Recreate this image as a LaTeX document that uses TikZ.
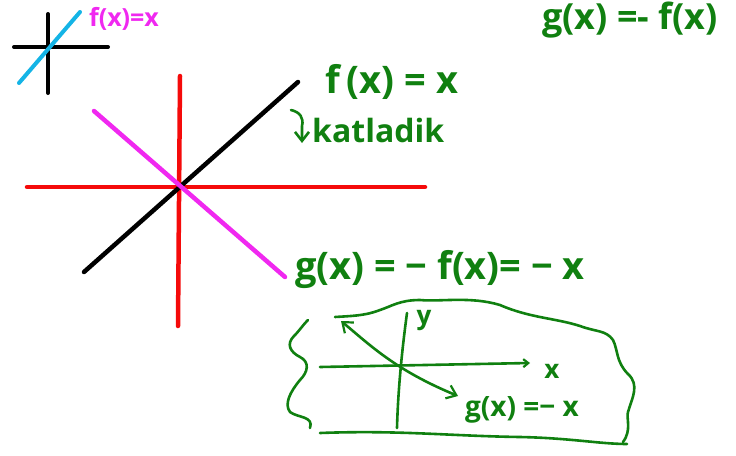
\documentclass[tikz,border=0pt]{standalone}
\usepackage{fontspec}
\setmainfont{Open Sans}
\usetikzlibrary{arrows.meta}
\definecolor{hgreen}{RGB}{16,128,16}
\definecolor{hmag}{RGB}{240,40,240}
\definecolor{hcyan}{RGB}{20,180,230}
\definecolor{hred}{RGB}{245,10,10}
\tikzset{
  thick axis/.style={line width=4.5pt, line cap=round},
  pen/.style={draw=hgreen, line width=2.6pt, line cap=round, line join=round},
  gtext/.style={text=hgreen, inner sep=0pt},
  tip/.style={-{Straight Barb[length=9pt,width=14pt,line width=2.6pt]}}
}
\begin{document}
\begin{tikzpicture}[x=1pt,y=-1pt]
\useasboundingbox (0,0) rectangle (736,455);
% small icon
\coordinate (ia) at (14,47); \coordinate (ib) at (108,47);
\coordinate (ic) at (48,14); \coordinate (id) at (48,93);
\coordinate (ie) at (19,83); \coordinate (if) at (80,12);
\draw[thick axis, line width=4pt] (ia) -- (ib);
\draw[thick axis, line width=4pt] (ic) -- (id);
\draw[thick axis, draw=hcyan, line width=4pt] (ie) -- (if);
\node[text=hmag, font=\bfseries\fontsize{25}{25}\selectfont, inner sep=0pt] (ftop) at (124,19) {f(x)=x};
% main axes
\coordinate (rl) at (27,187); \coordinate (rr) at (425,187);
\coordinate (rt) at (180,76); \coordinate (rb) at (178,326);
\coordinate (bl) at (84,272); \coordinate (bt) at (298,82);
\coordinate (ml) at (94,111); \coordinate (mr) at (285,277);
\draw[thick axis, draw=hred] (rl) -- (rr);
\draw[thick axis, draw=hred] (rt) -- (rb);
\draw[thick axis, draw=black] (bl) -- (bt);
\draw[thick axis, draw=hmag] (ml) -- (mr);
% labels
\node[gtext, font=\bfseries\fontsize{38}{38}\selectfont] (fx) at (392,82) {f\,(x) = x};
\coordinate (ka) at (291,110);
\coordinate (kb) at (302,143);
\draw[pen, tip] (ka) .. controls (300,112) and (304,118) .. (302,126) -- (kb);
\node[gtext, font=\bfseries\fontsize{32}{32}\selectfont, anchor=west] (kat) at (312,130) {katladik};
\node[gtext, font=\bfseries\fontsize{36}{36}\selectfont] (gtop) at (630,20) {g(x) =- f(x)};
\node[gtext, font=\bfseries\fontsize{38}{38}\selectfont] (gmid) at (440,270) {g(x) = − f(x)= − x};
% blob
\draw[pen] (308,320) .. controls (302,326) and (300,330) .. (294,336)
  .. controls (286,344) and (290,352) .. (300,357)
  .. controls (310,362) and (308,372) .. (300,380)
  .. controls (290,392) and (284,404) .. (290,412)
  .. controls (298,418) and (314,416) .. (310,428);
\draw[pen] (320,433) .. controls (400,430) and (450,436) .. (520,437)
  .. controls (570,438) and (600,444) .. (627,444);
\draw[pen] (623,442) .. controls (632,430) and (626,418) .. (628,412)
  .. controls (632,398) and (640,385) .. (628,374)
  .. controls (616,362) and (618,350) .. (613,340)
  .. controls (606,330) and (596,332) .. (580,326)
  .. controls (555,318) and (530,318) .. (500,305)
  .. controls (470,296) and (440,302) .. (420,300)
  .. controls (400,300) and (392,306) .. (380,310)
  .. controls (365,316) and (350,316) .. (335,317);
% inner axes
\coordinate (xa) at (320,367); \coordinate (xb) at (530,363);
\coordinate (ya) at (407,313); \coordinate (yb) at (397,428);
\draw[pen, -{Straight Barb[length=5pt,width=8pt,line width=2.2pt]}] (xa) -- (xb);
\draw[pen] (ya) .. controls (402,350) and (398,390) .. (yb);
\node[gtext, font=\bfseries\fontsize{26}{26}\selectfont] (ylab) at (424,321) {y};
\node[gtext, font=\bfseries\fontsize{26}{26}\selectfont] (xlab) at (552,371) {x};
\coordinate (da) at (341,321); \coordinate (db) at (458,396);
\draw[pen, {Straight Barb[length=9pt,width=14pt,line width=2.2pt]}-{Straight Barb[length=9pt,width=14pt,line width=2.2pt]}] (da) .. controls (370,345) and (395,370) .. (db);
\node[gtext, font=\bfseries\fontsize{28}{28}\selectfont] (glab) at (522,410) {g(x) =− x};
\end{tikzpicture}
\end{document}
